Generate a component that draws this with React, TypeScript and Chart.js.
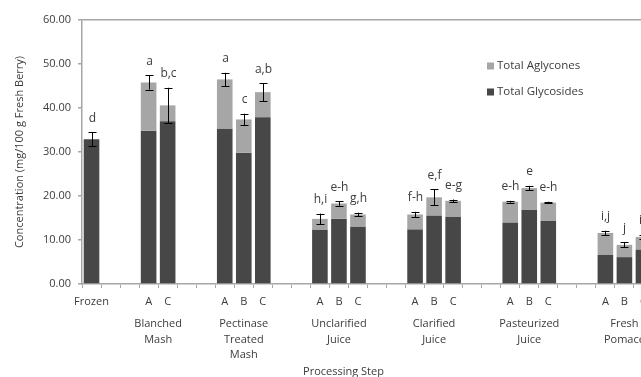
import React, { useEffect, useRef } from 'react';
import { Chart, registerables } from 'chart.js';

Chart.register(...registerables);

// ---- data ----
const slotLabels = ['Frozen', '', '', 'A', 'C', '', '', 'A', 'B', 'C', '', '', 'A', 'B', 'C', '', '', 'A', 'B', 'C', '', '', 'A', 'B', 'C', '', '', 'A', 'B', 'C', ''];
const glycosides = [32.9, null, null, 34.8, 37.0, null, null, 35.3, 29.8, 37.9, null, null, 12.3, 14.8, 13.0, null, null, 12.4, 15.5, 15.3, null, null, 13.9, 16.8, 14.3, null, null, 6.6, 6.1, 7.8, null];
const aglycones = [0, null, null, 11.0, 3.6, null, null, 11.2, 7.6, 5.7, null, null, 2.5, 3.5, 2.8, null, null, 3.4, 4.2, 3.6, null, null, 4.8, 5.0, 4.2, null, null, 5.0, 2.8, 2.9, null];
const errors = [1.6, null, null, 1.6, 4.0, null, null, 1.5, 1.3, 2.0, null, null, 1.2, 0.5, 0.4, null, null, 0.6, 1.8, 0.3, null, null, 0.2, 0.5, 0.2, null, null, 0.5, 0.6, 0.5, null];
const letters = ['d', '', '', 'a', 'b,c', '', '', 'a', 'c', 'a,b', '', '', 'h,i', 'e-h', 'g,h', '', '', 'f-h', 'e,f', 'e-g', '', '', 'e-h', 'e', 'e-h', '', '', 'i,j', 'j', 'i,j', ''];
const groupNames = [['Blanched', 'Mash'], ['Pectinase', 'Treated', 'Mash'], ['Unclarified', 'Juice'], ['Clarified', 'Juice'], ['Pasteurized', 'Juice'], ['Fresh', 'Pomace']];
const groupFirst = [3, 7, 12, 17, 22, 27];
const groupLast = [4, 9, 14, 19, 24, 29];
const yTicks = [0, 10, 20, 30, 40, 50, 60];
const seriesNames = ['Total Aglycones', 'Total Glycosides'];
const xTitle = 'Processing Step';
const yTitle = 'Concentration (mg/100 g Fresh Berry)';

const DARK = '#474747';
const LIGHT = '#a6a6a6';
const TEXT = '#3c3c3c';
const FONT = "'Open Sans', sans-serif";

const overlayPlugin = {
  id: 'overlay',
  afterDatasetsDraw(chart: any) {
    const { ctx, scales } = chart;
    const x = scales.x;
    const y = scales.y;
    ctx.save();
    ctx.strokeStyle = '#000';
    ctx.lineWidth = 1;
    ctx.fillStyle = TEXT;
    ctx.font = `12px ${FONT}`;
    ctx.textAlign = 'center';
    ctx.textBaseline = 'middle';
    for (let i = 0; i < slotLabels.length; i++) {
      const g = glycosides[i];
      if (g === null) continue;
      const total = g + (aglycones[i] || 0);
      const e = errors[i] || 0;
      const px = Math.round(x.getPixelForValue(i)) + 0.5;
      const top = y.getPixelForValue(total + e);
      const bot = y.getPixelForValue(total - e);
      ctx.beginPath();
      ctx.moveTo(px, top);
      ctx.lineTo(px, bot);
      ctx.moveTo(px - 4, Math.round(top) + 0.5);
      ctx.lineTo(px + 4, Math.round(top) + 0.5);
      ctx.moveTo(px - 4, Math.round(bot) + 0.5);
      ctx.lineTo(px + 4, Math.round(bot) + 0.5);
      ctx.stroke();
      if (letters[i]) ctx.fillText(letters[i], px, top - 14);
    }
    ctx.restore();
  },
  afterDraw(chart: any) {
    const { ctx, scales, chartArea } = chart;
    const x = scales.x;
    ctx.save();
    ctx.fillStyle = TEXT;
    ctx.font = `11px ${FONT}`;
    ctx.textAlign = 'center';
    ctx.textBaseline = 'middle';
    for (let k = 0; k < groupNames.length; k++) {
      const cx = (x.getPixelForValue(groupFirst[k]) + x.getPixelForValue(groupLast[k])) / 2;
      groupNames[k].forEach((line, j) => {
        ctx.fillText(line, cx, chartArea.bottom + 40 + j * 15.5);
      });
    }
    ctx.fillText(xTitle, (chartArea.left + 641) / 2 - 18, chartArea.bottom + 88);

    // legend
    const lx = 487;
    const ly = [66, 92];
    const cols = [LIGHT, DARK];
    ctx.textAlign = 'left';
    ctx.font = `11.5px ${FONT}`;
    for (let k = 0; k < 2; k++) {
      ctx.fillStyle = cols[k];
      ctx.fillRect(lx, ly[k] - 3.5, 7, 7);
      ctx.fillStyle = TEXT;
      ctx.fillText(seriesNames[k], lx + 10, ly[k]);
    }
    ctx.restore();
  },
};

export default function App() {
  const ref = useRef<HTMLCanvasElement | null>(null);
  useEffect(() => {
    if (!ref.current) return;
    const chart = new Chart(ref.current, {
      type: 'bar',
      data: {
        labels: slotLabels,
        datasets: [
          { label: seriesNames[1], data: glycosides as any, backgroundColor: DARK, barPercentage: 0.82, categoryPercentage: 1, borderWidth: 0 },
          { label: seriesNames[0], data: aglycones as any, backgroundColor: LIGHT, barPercentage: 0.82, categoryPercentage: 1, borderWidth: 0 },
        ],
      },
      options: {
        responsive: false,
        animation: false,
        devicePixelRatio: 1,
        layout: { padding: { top: 20, right: 18, bottom: 0, left: 0 } },
        plugins: { legend: { display: false }, tooltip: { enabled: false } },
        scales: {
          x: {
            stacked: true,
            offset: true,
            grid: { offset: true, drawOnChartArea: false, tickLength: 4, color: LIGHT },
            border: { color: LIGHT, width: 1.5 },
            ticks: { autoSkip: false, maxRotation: 0, padding: 7, color: TEXT, font: { size: 11, family: FONT } },
            afterFit: (s: any) => { s.height = 93; },
          },
          y: {
            stacked: true,
            min: 0,
            max: 60,
            afterBuildTicks: (s: any) => { s.ticks = yTicks.map((v) => ({ value: v })); },
            grid: {
              tickLength: 4,
              tickColor: LIGHT,
              color: (c: any) => (c.tick && c.tick.value === 60 ? LIGHT : 'rgba(0,0,0,0)'),
              lineWidth: 1.5,
            },
            border: { color: LIGHT, width: 1.5 },
            ticks: { padding: 7, color: TEXT, font: { size: 11, family: FONT }, callback: (v: any) => Number(v).toFixed(2) },
            title: { display: true, text: yTitle, color: TEXT, font: { size: 11, family: FONT }, padding: { top: 13, bottom: 4 } },
            afterFit: (s: any) => { s.width = 82; },
          },
        },
      },
      plugins: [overlayPlugin],
    });
    return () => chart.destroy();
  }, []);
  return (
    <div style={{ position: 'fixed', left: 0, top: 0, width: 641, height: 377, overflow: 'hidden', background: '#fff' }}>
      <canvas ref={ref} width={690} height={377} style={{ display: 'block' }} />
    </div>
  );
}
